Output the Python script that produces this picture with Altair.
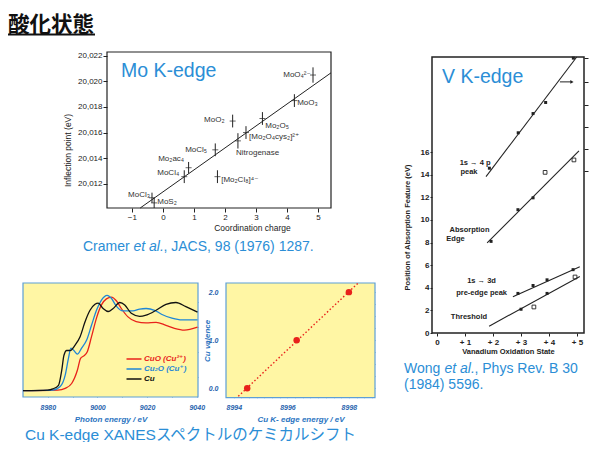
import altair as alt
import pandas as pd

W, H = 581, 434
M = 8

SANS = "Liberation Sans, DejaVu Sans, sans-serif"
JP = "Liberation Sans, Noto Sans CJK JP, sans-serif"
BLUE_TXT = "#2b8ed6"
CU_LABEL = "#1f62ad"
CU_TITLE = "#2a74bf"
CU_FRAME = "#5d9fd6"
YELLOW = "#fff6a4"
RED = "#e8221b"
CU2O_BLUE = "#1f86d6"
INK = "#222222"

# ---------------- Mo K-edge (Cramer et al.) ----------------
mo_names = ["MoO₄²⁻", "MoO₃", "Mo₂O₅", "[Mo₂O₄cys₂]²⁺", "Nitrogenase", "MoO₂",
            "MoCl₅", "Mo₂ac₄", "MoCl₄", "[Mo₂Cl₈]⁴⁻", "MoCl₃", "MoS₂"]
mo_charge = [4.84, 4.24, 3.21, 2.68, 2.42, 2.25, 1.69, 0.83, 0.69, 1.76, -0.35, -0.28]
mo_edge = [20020.5, 20018.5, 20017.1, 20016.0, 20015.35, 20016.9, 20014.65,
           20013.25, 20012.55, 20012.55, 20010.9, 20010.5]
mo_err = [0.6, 0.5, 0.5, 0.5, 0.6, 0.5, 0.5, 0.45, 0.5, 0.5, 0.4, 0.4]
mo_label_q = [3.88, 4.33, 3.30, 2.78, 2.36, 1.33, 0.72, -0.15, -0.18, 1.88, -1.12, -0.18]
mo_label_e = [20020.52, 20018.33, 20016.53, 20015.67, 20014.42, 20017.0, 20014.66,
              20013.95, 20012.86, 20012.31, 20011.14, 20010.6]
mo_fit_q = [-0.73, 5.42]
mo_fit_e = [20010.1, 20020.67]
MOX = [-1.8, 5.42]
MOY = [20010.1, 20022.3]

# ---------------- V K-edge (Wong et al.) ----------------
v_series = ["1s→4p", "Absorption edge", "1s→3d", "Threshold"]
v_line_x = [[1.75, 4.99], [1.79, 5.07], [2.71, 5.10], [1.86, 5.10]]
v_line_y = [[13.83, 24.4], [7.96, 16.1], [3.2, 5.85], [0.6, 5.0]]
v_pts_x = [[1.87, 2.90, 3.43, 3.88, 4.87], [1.93, 2.89, 3.43, 3.86, 4.89],
           [2.89, 3.43, 3.93, 4.86], [3.00, 3.46, 3.93, 4.93]]
v_pts_y = [[14.57, 17.7, 19.4, 20.38, 24.3], [8.1, 10.9, 11.95, 14.2, 15.3],
           [3.5, 4.2, 4.7, 5.6], [2.1, 2.3, 3.5, 4.95]]
v_pts_open = [[False, False, False, False, False], [False, False, False, True, True],
              [False, False, False, False], [False, True, False, True]]
v_text = ["1s → 4 p", "peak", "Absorption", "Edge", "1s → 3d", "pre-edge peak", "Threshold"]
v_text_x = [1.36, 1.14, 1.16, 0.66, 1.59, 1.59, 1.14]
v_text_y = [15.04, 14.25, 9.12, 8.32, 4.6, 3.54, 1.42]
v_right_ticks = [14.3, 16.3, 18.25, 20.2, 22.2, 24.35]
v_arrow_x = [4.39, 4.82]
v_arrow_y = [22.2, 22.2]
VX = [-0.18, 5.25]
VY = [0, 24.4]

# ---------------- Cu K-edge XANES ----------------
cu_names = ["CuO  (Cu²⁺)", "Cu₂O  (Cu⁺)", "Cu"]
cuo_E = [8970, 8984, 8987, 8989.6, 8991.9, 8993.2, 8994.5, 8995.9, 8997.6, 8999.6, 9001.6,
         9003.6, 9005.6, 9007.6, 9009.6, 9012.3, 9015.6, 9019.6, 9023.6, 9027.6, 9031, 9035, 9040.3]
cuo_mu = [0, 0.01, 0.04, 0.12, 0.34, 0.54, 0.58, 0.65, 0.90, 1.21, 1.43, 1.53, 1.56, 1.50,
          1.37, 1.23, 1.15, 1.13, 1.14, 1.09, 1.04, 1.01, 1.06]
cu2o_E = [8970, 8982, 8985, 8987, 8988.3, 8989.3, 8990.5, 8991.9, 8993.6, 8995.6, 8997.6,
          8999.6, 9001.6, 9003.9, 9005.6, 9007.6, 9010.3, 9014.3, 9017, 9019.6, 9023, 9026,
          9030, 9034, 9040.3]
cu2o_mu = [0, 0.01, 0.07, 0.26, 0.54, 0.71, 0.67, 0.61, 0.71, 0.84, 1.09, 1.34, 1.51, 1.59,
           1.54, 1.41, 1.33, 1.33, 1.36, 1.37, 1.34, 1.27, 1.21, 1.18, 1.18]
cu_E = [8970, 8980, 8982, 8984.3, 8985.6, 8986.5, 8987.6, 8989, 8991, 8993, 8995, 8997, 8999,
        9000.3, 9002.3, 9004.3, 9006.3, 9009, 9011, 9013.6, 9017, 9019.6, 9023.6, 9027.6,
        9031.6, 9035.6, 9040.3]
cu_mu = [0, 0.01, 0.03, 0.09, 0.34, 0.59, 0.67, 0.67, 0.76, 0.90, 1.15, 1.34, 1.44, 1.46,
         1.37, 1.32, 1.37, 1.47, 1.43, 1.29, 1.24, 1.26, 1.34, 1.44, 1.47, 1.40, 1.31]
XAX = [8970, 9040.5]
XAY = [-0.105, 1.795]
xan_ticks_x = [8980, 8990, 9000, 9010, 9020, 9030, 9040]
xan_ticks_y = [0.23, 0.65, 1.07, 1.48]

# ---------------- Cu valence vs edge energy ----------------
val_E = [8994.69, 8996.3, 8998.0]
val_v = [0.0, 1.0, 2.0]
VAX = [8994, 8998.85]
VAY = [-0.196, 2.19]
val_ticks_x = [8994 + 0.25 * i for i in range(1, 20)]
val_ticks_y = [0.25 * i for i in range(0, 9)]


# ---------------- helpers ----------------
def xscale(domain, p0, p1):
    return alt.Scale(domain=domain, range=[p0 - M, p1 - M], nice=False, zero=False)


def yscale(domain, pb, pt):
    return alt.Scale(domain=domain, range=[pb - M, pt - M], nice=False, zero=False)


def off_bottom(py):
    return (py - M) - H


def off_top(py):
    return -(py - M)


def off_left(px):
    return -(px - M)


def off_right(px):
    return (px - M) - W


def frame_df(xd, yd):
    return pd.DataFrame({"x0": [xd[0]], "x1": [xd[1]], "y0": [yd[0]], "y1": [yd[1]]})


def note(text, px, py, size, color, font=SANS, style="normal", weight="normal",
         align="left", baseline="alphabetic"):
    return alt.Chart(pd.DataFrame({"t": [text]})).mark_text(
        align=align, baseline=baseline, font=font, fontSize=size, fontStyle=style,
        fontWeight=weight, color=color
    ).encode(x=alt.value(px - M), y=alt.value(py - M), text="t:N")


def tick_axis(orient, offset, values, color, size=3):
    return alt.Axis(orient=orient, offset=offset, values=values, labels=False, domain=False,
                    tickSize=size, tickColor=color, title=None, grid=False)


layers = []

# ---- slide title ----
layers.append(note("酸化状態", 8, 31.5, 21.5, "#111", font="Noto Sans CJK JP", weight="bold"))
layers.append(
    alt.Chart(pd.DataFrame({"k": [0]})).mark_rule(color="#111", strokeWidth=2.2).encode(
        x=alt.value(0), x2=alt.value(87), y=alt.value(26.5))
)

# ---- Mo panel ----
mo_x = xscale(MOX, 107, 331)
mo_y = yscale(MOY, 208, 52)
mo_df = pd.DataFrame({"name": mo_names, "q": mo_charge, "e": mo_edge, "err": mo_err,
                      "lq": mo_label_q, "le": mo_label_e})
layers.append(
    alt.Chart(frame_df(MOX, MOY)).mark_rect(fillOpacity=0, stroke=INK, strokeWidth=1.2).encode(
        x=alt.X("x0:Q", scale=mo_x, axis=alt.Axis(
            orient="bottom", offset=off_bottom(208), values=[-1, 0, 1, 2, 3, 4, 5],
            tickSize=4, labelPadding=1, labelFont=SANS, labelFontSize=8, labelColor=INK,
            tickColor=INK, domain=False, grid=False, title="Coordination charge",
            titleFont=SANS, titleFontSize=8.5, titleFontWeight="normal", titleColor=INK,
            titlePadding=2, titleX=252 - M)),
        x2="x1",
        y=alt.Y("y0:Q", scale=mo_y, axis=alt.Axis(
            orient="left", offset=off_left(107), values=[20012, 20014, 20016, 20018, 20020, 20022],
            format=",d", tickSize=4, labelPadding=1, labelFont=SANS, labelFontSize=8,
            labelColor=INK, tickColor=INK, domain=False, grid=False,
            title="Inflection point (eV)", titleFont=SANS, titleFontSize=8.5,
            titleFontWeight="normal", titleColor=INK, titleX=-40, titleY=150 - M,
            titleBaseline="middle")),
        y2="y1",
    )
)
layers.append(
    alt.Chart(pd.DataFrame({"q": mo_fit_q, "e": mo_fit_e})).mark_line(color=INK, strokeWidth=1).encode(
        x=alt.X("q:Q", scale=mo_x, axis=None), y=alt.Y("e:Q", scale=mo_y, axis=None))
)
layers.append(
    alt.Chart(mo_df).transform_calculate(lo="datum.e - datum.err", hi="datum.e + datum.err")
    .mark_rule(color=INK, strokeWidth=1).encode(
        x=alt.X("q:Q", scale=mo_x, axis=None), y=alt.Y("lo:Q", scale=mo_y, axis=None), y2="hi:Q")
)
layers.append(
    alt.Chart(mo_df).mark_tick(orient="horizontal", size=6, thickness=1, color=INK).encode(
        x=alt.X("q:Q", scale=mo_x, axis=None), y=alt.Y("e:Q", scale=mo_y, axis=None))
)
layers.append(
    alt.Chart(mo_df).mark_text(align="left", baseline="middle", font=SANS, fontSize=8, color="#333").encode(
        x=alt.X("lq:Q", scale=mo_x, axis=None), y=alt.Y("le:Q", scale=mo_y, axis=None), text="name:N")
)
layers.append(note("Mo K-edge", 121, 77, 19.5, BLUE_TXT))

# ---- V panel ----
v_x = xscale(VX, 432, 584)
v_y = yscale(VY, 333, 57)
vl_rows, vp_rows = [], []
for s, lx, ly in zip(v_series, v_line_x, v_line_y):
    for a, b in zip(lx, ly):
        vl_rows.append({"series": s, "x": a, "y": b})
for s, px, py, po in zip(v_series, v_pts_x, v_pts_y, v_pts_open):
    for a, b, c in zip(px, py, po):
        vp_rows.append({"series": s, "x": a, "y": b, "open": c})
vl_df = pd.DataFrame(vl_rows)
vp_df = pd.DataFrame(vp_rows)

layers.append(
    alt.Chart(frame_df(VX, VY)).mark_rect(fillOpacity=0, stroke=INK, strokeWidth=1.5).encode(
        x=alt.X("x0:Q", scale=v_x, axis=alt.Axis(
            orient="bottom", offset=off_bottom(333), values=[0, 1, 2, 3, 4, 5],
            labelExpr="datum.value == 0 ? '0' : '+ ' + datum.value",
            tickSize=3, labelPadding=2, labelFont=SANS, labelFontSize=8, labelFontWeight="bold",
            labelColor=INK, tickColor=INK, domain=False, grid=False,
            title="Vanadium Oxidation State", titleFont=SANS, titleFontSize=7.5,
            titleFontWeight="bold", titleColor=INK, titlePadding=1)),
        x2="x1",
        y=alt.Y("y0:Q", scale=v_y, axis=alt.Axis(
            orient="left", offset=off_left(432), values=[0, 2, 4, 6, 8, 10, 12, 14, 16],
            tickSize=2, labelPadding=1, labelFont=SANS, labelFontSize=8, labelFontWeight="bold",
            labelColor=INK, tickColor=INK, domain=False, grid=False,
            title="Position of Absorption Feature (eV)", titleFont=SANS, titleFontSize=7.5,
            titleFontWeight="bold", titleColor=INK, titleX=-25, titleY=227 - M,
            titleBaseline="middle")),
        y2="y1",
    )
)
layers.append(
    alt.Chart(vl_df).mark_line(color=INK, strokeWidth=1.1).encode(
        x=alt.X("x:Q", scale=v_x, axis=None),
        y=alt.Y("y:Q", scale=v_y, axis=tick_axis("right", off_right(584), v_right_ticks, INK, 4)),
        detail="series:N")
)
layers.append(
    alt.Chart(vp_df).transform_filter("!datum.open").mark_point(
        shape="square", filled=True, size=9, color=INK, opacity=1).encode(
        x=alt.X("x:Q", scale=v_x, axis=None), y=alt.Y("y:Q", scale=v_y, axis=None))
)
layers.append(
    alt.Chart(vp_df).transform_filter("datum.open").mark_point(
        shape="square", filled=False, size=14, color=INK, strokeWidth=0.9, opacity=1).encode(
        x=alt.X("x:Q", scale=v_x, axis=None), y=alt.Y("y:Q", scale=v_y, axis=None))
)
layers.append(
    alt.Chart(pd.DataFrame({"x": v_arrow_x, "y": v_arrow_y})).mark_line(color=INK, strokeWidth=1).encode(
        x=alt.X("x:Q", scale=v_x, axis=None), y=alt.Y("y:Q", scale=v_y, axis=None))
)
layers.append(
    alt.Chart(pd.DataFrame({"x": v_arrow_x[1:], "y": v_arrow_y[1:]})).mark_point(
        shape="triangle-right", filled=True, size=14, color=INK, opacity=1).encode(
        x=alt.X("x:Q", scale=v_x, axis=None), y=alt.Y("y:Q", scale=v_y, axis=None))
)
layers.append(
    alt.Chart(pd.DataFrame({"t": v_text, "x": v_text_x, "y": v_text_y})).mark_text(
        align="center", baseline="middle", font=SANS, fontSize=7.5, fontWeight="bold", color=INK).encode(
        x=alt.X("x:Q", scale=v_x, axis=None), y=alt.Y("y:Q", scale=v_y, axis=None), text="t:N")
)
layers.append(note("V K-edge", 442, 83, 19.5, BLUE_TXT))

# ---- captions ----
layers.append(note("Cramer", 83, 251, 14, BLUE_TXT))
layers.append(note("et al.", 133.5, 251, 14, BLUE_TXT, style="italic"))
layers.append(note(", JACS, 98 (1976) 1287.", 163.5, 251, 14, BLUE_TXT))
layers.append(note("Wong", 404, 372.5, 14, BLUE_TXT))
layers.append(note("et al.", 444.5, 372.5, 14, BLUE_TXT, style="italic"))
layers.append(note(", Phys Rev. B 30", 474.5, 372.5, 14, BLUE_TXT))
layers.append(note("(1984) 5596.", 404, 389, 14, BLUE_TXT))
layers.append(note("Cu K-edge XANESスペクトルのケミカルシフト", 25, 440, 15.5, BLUE_TXT, font=JP))

# ---- XANES panel ----
xa_x = xscale(XAX, 23, 198)
xa_y = yscale(XAY, 397, 283)
xan_rows = []
for name, es, ms in zip(cu_names, [cuo_E, cu2o_E, cu_E], [cuo_mu, cu2o_mu, cu_mu]):
    for e, m in zip(es, ms):
        xan_rows.append({"sample": name, "E": e, "mu": m})
xan_df = pd.DataFrame(xan_rows)

layers.append(
    alt.Chart(frame_df(XAX, XAY)).mark_rect(fill=YELLOW, stroke=CU_FRAME, strokeWidth=1.2).encode(
        x=alt.X("x0:Q", scale=xa_x, axis=alt.Axis(
            orient="bottom", offset=off_bottom(397), values=[8980, 9000, 9020, 9040], format="d",
            tickSize=0, labelPadding=6, labelFont=SANS, labelFontSize=7, labelFontWeight="bold",
            labelFontStyle="italic", labelColor=CU_LABEL, domain=False, grid=False,
            title="Photon energy  /  eV", titleFont=SANS, titleFontSize=8, titleFontWeight="bold",
            titleFontStyle="italic", titleColor=CU_TITLE, titlePadding=5)),
        x2="x1",
        y=alt.Y("y0:Q", scale=xa_y, axis=None),
        y2="y1",
    )
)
layers.append(
    alt.Chart(xan_df).mark_line(strokeWidth=1.3, interpolate="monotone").encode(
        x=alt.X("E:Q", scale=xa_x, axis=tick_axis("top", off_top(397), xan_ticks_x, CU_FRAME)),
        y=alt.Y("mu:Q", scale=xa_y, axis=tick_axis("right", off_right(23), xan_ticks_y, CU_FRAME)),
        color=alt.Color("sample:N", sort=cu_names,
                        scale=alt.Scale(domain=cu_names, range=[RED, CU2O_BLUE, "#111111"]),
                        legend=alt.Legend(
                            orient="none", legendX=128 - M, legendY=353 - M, title=None,
                            symbolType="M-1.5,0H1.5", symbolSize=100, symbolStrokeWidth=1.5,
                            labelFont=SANS, labelFontSize=8, labelFontStyle="italic",
                            labelFontWeight="bold", labelOffset=4, rowPadding=0, padding=0,
                            labelColor={"expr": f"datum.label === '{cu_names[0]}' ? '{RED}' : "
                                                f"(datum.label === '{cu_names[1]}' ? '{CU2O_BLUE}' : '#111111')"})),
        detail="sample:N",
    )
)
layers.append(
    alt.Chart(frame_df(XAX, XAY)).mark_rect(fillOpacity=0, strokeOpacity=0).encode(
        x=alt.X("x0:Q", scale=xa_x, axis=tick_axis("bottom", off_bottom(283), xan_ticks_x, CU_FRAME)),
        x2="x1",
        y=alt.Y("y0:Q", scale=xa_y, axis=tick_axis("left", off_left(198), xan_ticks_y, CU_FRAME)),
        y2="y1",
    )
)

# ---- valence panel ----
va_x = xscale(VAX, 226, 375)
va_y = yscale(VAY, 397.7, 283)
val_df = pd.DataFrame({"E": val_E, "v": val_v})
layers.append(
    alt.Chart(frame_df(VAX, VAY)).mark_rect(fill=YELLOW, stroke=CU_FRAME, strokeWidth=1.2).encode(
        x=alt.X("x0:Q", scale=va_x, axis=alt.Axis(
            orient="bottom", offset=off_bottom(397.7), values=[8994, 8996, 8998], format="d",
            tickSize=0, labelPadding=6, labelFont=SANS, labelFontSize=7, labelFontWeight="bold",
            labelFontStyle="italic", labelColor=CU_LABEL, domain=False, grid=False,
            title="Cu K- edge energy  /  eV", titleFont=SANS, titleFontSize=8, titleFontWeight="bold",
            titleFontStyle="italic", titleColor=CU_TITLE, titlePadding=5)),
        x2="x1",
        y=alt.Y("y0:Q", scale=va_y, axis=alt.Axis(
            orient="left", offset=off_left(226), values=[0, 1, 2], format=".1f",
            tickSize=0, labelPadding=8, labelFont=SANS, labelFontSize=7, labelFontWeight="bold",
            labelFontStyle="italic", labelColor=CU_LABEL, domain=False, grid=False,
            title="Cu valence", titleFont=SANS, titleFontSize=8, titleFontWeight="bold",
            titleFontStyle="italic", titleColor=CU_TITLE, titleX=-19, titleBaseline="middle")),
        y2="y1",
    )
)
layers.append(
    alt.Chart(val_df).transform_regression("E", "v", extent=[8994.4, 8998.3]).mark_line(
        color=RED, strokeWidth=1.4, strokeDash=[1.5, 2.2]).encode(
        x=alt.X("E:Q", scale=va_x, axis=tick_axis("top", off_top(397.7), val_ticks_x, CU_FRAME, 2.5)),
        y=alt.Y("v:Q", scale=va_y, axis=tick_axis("right", off_right(226), val_ticks_y, CU_FRAME, 2.5)))
)
layers.append(
    alt.Chart(val_df).mark_circle(color=RED, size=42, opacity=1).encode(
        x=alt.X("E:Q", scale=va_x, axis=tick_axis("bottom", off_bottom(283), val_ticks_x, CU_FRAME, 2.5)),
        y=alt.Y("v:Q", scale=va_y, axis=tick_axis("left", off_left(375), val_ticks_y, CU_FRAME, 2.5)))
)

chart = alt.layer(*layers).resolve_scale(x="independent", y="independent").properties(
    width=W, height=H, autosize="none", padding=0, background="white"
).configure_view(strokeWidth=0).configure_axis(grid=False)

chart.save("out.html", embed_options={"renderer": "svg", "actions": False})
